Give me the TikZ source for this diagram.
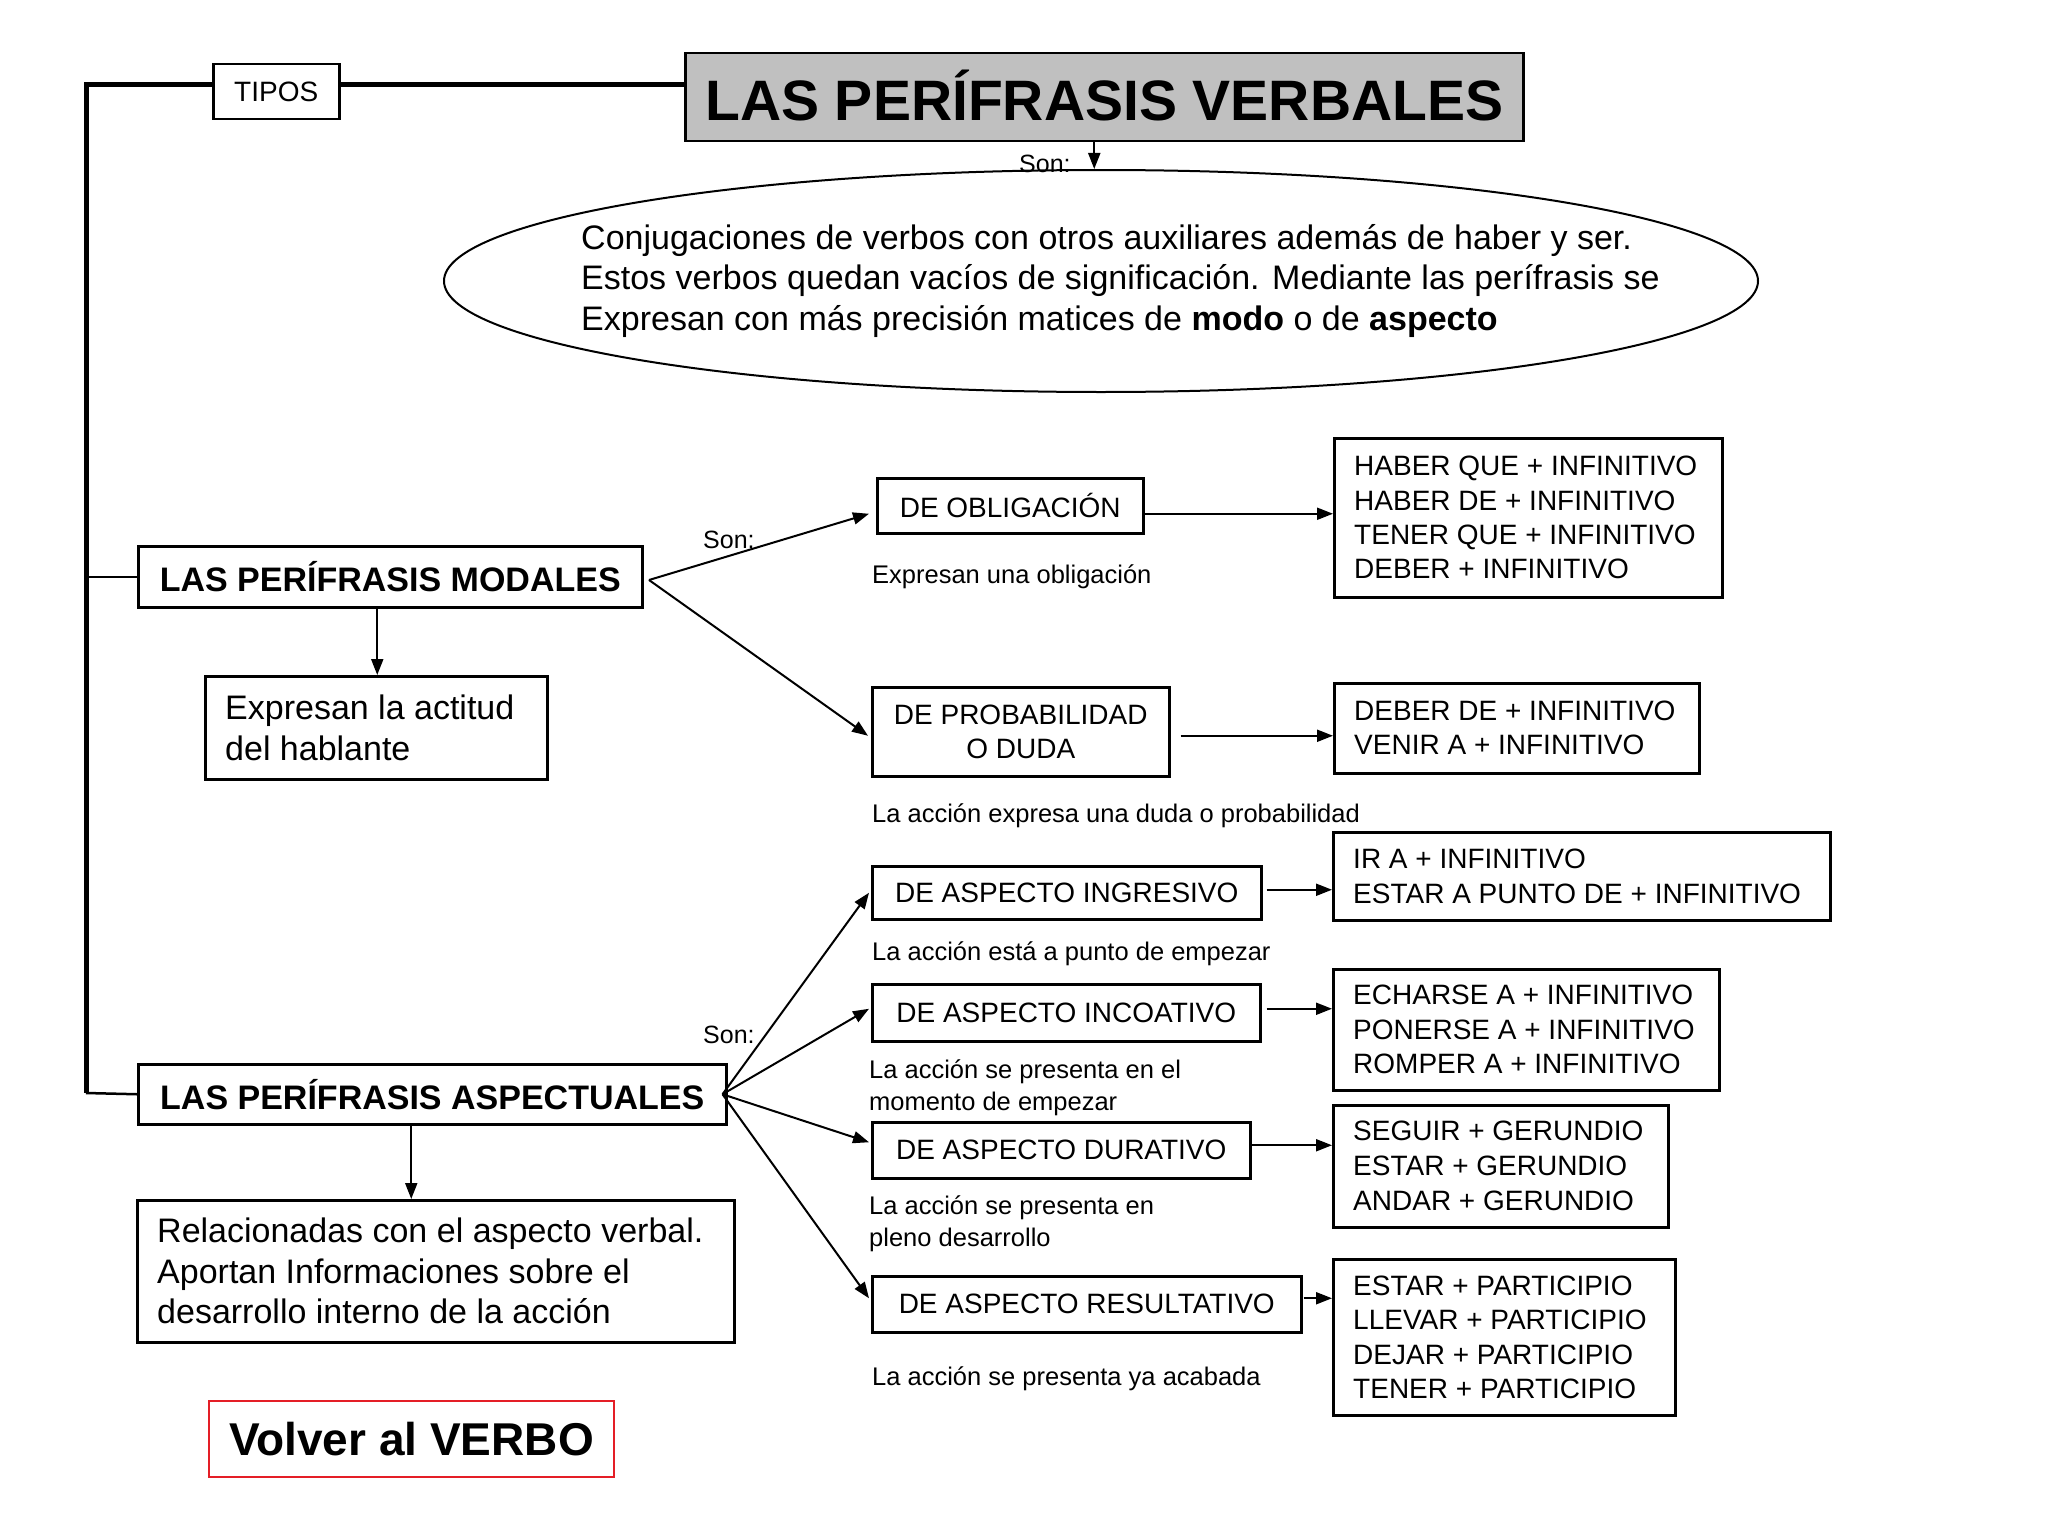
\documentclass[tikz,border=0pt]{standalone}
\usepackage{fontspec}
\setmainfont{Liberation Sans}
\usetikzlibrary{arrows.meta,shapes.geometric}
\definecolor{titlegray}{HTML}{C0C0C0}
\definecolor{volred}{HTML}{E41E26}
\newcommand\fsz[2]{\fontsize{#1}{#2}\selectfont}
\begin{document}
\begin{tikzpicture}[x=1pt,y=-1pt,
 box/.style={draw, line width=2.5pt, rectangle, inner sep=0pt, anchor=north west},
 btxt/.style={anchor=west, inner sep=0pt, align=left},
 arr/.style={line width=2pt, -{Triangle[length=16pt,width=12pt]}},
 lbl/.style={anchor=west, inner sep=0pt, font=\fsz{25.5}{32}, align=left},
 son/.style={anchor=west, inner sep=0pt, font=\fsz{25}{30}},
]
\fill[white] (0,0) rectangle (2048,1536);
\useasboundingbox (0,0) rectangle (2048,1536);

% title and tipos
\node[box, minimum width=838, minimum height=88, fill=titlegray, font=\bfseries\fsz{57}{60}] (title) at (684,52) {\raisebox{5pt}{LAS PERÍFRASIS VERBALES}};
\node[box, minimum width=126, minimum height=55, font=\fsz{28}{32}] (tipos) at (212,63) {TIPOS};

% ellipse
\node[draw, ellipse, line width=2pt, minimum width=1314, minimum height=222, inner sep=0pt] (ell) at (1101,281) {};
\node[btxt, font=\fsz{34}{40.5}] (elltext) at (581,281) {Conjugaciones de verbos con otros auxiliares además de haber y ser.\\Estos verbos quedan vacíos de significación. Mediante las perífrasis se\\Expresan con más precisión matices de \textbf{modo} o de \textbf{aspecto}};
\node[son] (son0) at (1019,164) {Son:};

% modales
\node[box, minimum width=504, minimum height=61, font=\bfseries\fsz{34}{40}] (modal) at (137,545) {LAS PERÍFRASIS MODALES};
\node[box, minimum width=342, minimum height=103] (actitud) at (204,675) {};
\node[btxt, font=\fsz{34}{40.5}] (actitudT) at ([xshift=21pt]actitud.west) {Expresan la actitud\\del hablante};
\node[box, minimum width=266, minimum height=55, font=\fsz{28}{34}] (obl) at (876,477) {DE OBLIGACIÓN};
\node[box, minimum width=388, minimum height=159] (haber) at (1333,437) {};
\node[btxt, font=\fsz{28}{34.3}] (haberT) at ([xshift=21pt]haber.west) {HABER QUE + INFINITIVO\\HABER DE + INFINITIVO\\TENER QUE + INFINITIVO\\DEBER + INFINITIVO};
\node[box, minimum width=297, minimum height=89, align=center, font=\fsz{28}{34}] (prob) at (871,686) {DE PROBABILIDAD\\O DUDA};
\node[box, minimum width=365, minimum height=90] (deber) at (1333,682) {};
\node[btxt, font=\fsz{28}{34}] (deberT) at ([xshift=21pt]deber.west) {DEBER DE + INFINITIVO\\VENIR A + INFINITIVO};
\node[son] (son1) at (703,540) {Son:};
\node[lbl] (d1) at (872,577) {Expresan una obligación};
\node[lbl] (d2) at (872,816) {La acción expresa una duda o probabilidad};

% aspectuales
\node[box, minimum width=588, minimum height=60, font=\bfseries\fsz{34}{40}] (asp) at (137,1063) {LAS PERÍFRASIS ASPECTUALES};
\node[box, minimum width=597, minimum height=142] (relac) at (136,1199) {};
\node[btxt, font=\fsz{34}{40.5}] (relacT) at ([xshift=21pt]relac.west) {Relacionadas con el aspecto verbal.\\Aportan Informaciones sobre el\\desarrollo interno de la acción};
\node[box, minimum width=389, minimum height=53, font=\fsz{28}{34}] (ing) at (871,865) {DE ASPECTO INGRESIVO};
\node[box, minimum width=388, minimum height=57, font=\fsz{28}{34}] (inc) at (871,983) {DE ASPECTO INCOATIVO};
\node[box, minimum width=378, minimum height=56, font=\fsz{28}{34}] (dur) at (871,1121) {DE ASPECTO DURATIVO};
\node[box, minimum width=429, minimum height=56, font=\fsz{28}{34}] (res) at (871,1275) {DE ASPECTO RESULTATIVO};
\node[box, minimum width=497, minimum height=88] (ir) at (1332,831) {};
\node[btxt, font=\fsz{28}{35}] (irT) at ([xshift=21pt]ir.west) {IR A + INFINITIVO\\ESTAR A PUNTO DE + INFINITIVO};
\node[box, minimum width=386, minimum height=121] (ech) at (1332,968) {};
\node[btxt, font=\fsz{28}{34.5}] (echT) at ([xshift=21pt]ech.west) {ECHARSE A + INFINITIVO\\PONERSE A + INFINITIVO\\ROMPER A + INFINITIVO};
\node[box, minimum width=335, minimum height=122] (seg) at (1332,1104) {};
\node[btxt, font=\fsz{28}{35}] (segT) at ([xshift=21pt]seg.west) {SEGUIR + GERUNDIO\\ESTAR + GERUNDIO\\ANDAR + GERUNDIO};
\node[box, minimum width=342, minimum height=156] (est) at (1332,1258) {};
\node[btxt, font=\fsz{28}{34.5}] (estT) at ([xshift=21pt]est.west) {ESTAR + PARTICIPIO\\LLEVAR + PARTICIPIO\\DEJAR + PARTICIPIO\\TENER + PARTICIPIO};
\node[son] (son2) at (703,1035) {Son:};
\node[lbl] (d3) at (872,954) {La acción está a punto de empezar};
\node[lbl] (d4) at (869,1088) {La acción se presenta en el\\momento de empezar};
\node[lbl] (d5) at (869,1224) {La acción se presenta en\\pleno desarrollo};
\node[lbl] (d6) at (872,1379) {La acción se presenta ya acabada};

% volver
\node[box, draw=volred, line width=2pt, minimum width=405, minimum height=76, font=\bfseries\fsz{46}{50}] (volver) at (208,1400) {Volver al VERBO};

% bracket
\coordinate (tl) at (86,85);
\coordinate (bl) at (86,1093);
\draw[line width=5pt] (tl -| tipos.west) -- (tl) -- (bl);
\draw[line width=5pt] (tl -| tipos.east) -- (tl -| title.west);
\draw[line width=2.5pt] (bl) -- (asp.west);
\draw[line width=2.5pt] (bl |- modal.west) -- (modal.west);

% title to ellipse
\coordinate (t0) at ([xshift=-10pt]title.south);
\draw[arr] (t0) -- (t0 |- ell.north);

% modal arrows
\draw[arr] ([xshift=-13pt]modal.south) -- ([xshift=-13pt]modal.south |- actitud.north);
\coordinate (mp) at (649,580);
\draw[arr] (mp) -- ([shift={(-7,8)}]obl.west);
\draw[arr] (mp) -- ([shift={(-3,4)}]prob.west);
\coordinate (o1) at ([shift={(0,8)}]obl.east);
\draw[arr] (o1) -- (o1 -| haber.west);
\coordinate (o2) at ([shift={(10,4)}]prob.east);
\draw[arr] (o2) -- (o2 -| deber.west);

% aspect arrows
\draw[arr] ([xshift=-21pt]asp.south) -- ([xshift=-21pt]asp.south |- relac.north);
\coordinate (ap) at ([xshift=-5pt]asp.east);
\draw[arr] (ap) -- ([xshift=-2pt]ing.west);
\draw[arr] (ap) -- ([shift={(-2,-4)}]inc.west);
\draw[arr] (ap) -- ([shift={(-2,-8)}]dur.west);
\draw[arr] (ap) -- ([shift={(-2,-6)}]res.west);
\coordinate (a1) at ([shift={(4,-3)}]ing.east);
\draw[arr] (a1) -- (a1 -| ir.west);
\coordinate (a2) at ([shift={(5,-4)}]inc.east);
\draw[arr] (a2) -- (a2 -| ech.west);
\coordinate (a3) at ([shift={(0,-5)}]dur.east);
\draw[arr] (a3) -- (a3 -| seg.west);
\coordinate (a4) at ([shift={(1,-6)}]res.east);
\draw[arr] (a4) -- (a4 -| est.west);
\end{tikzpicture}
\end{document}
